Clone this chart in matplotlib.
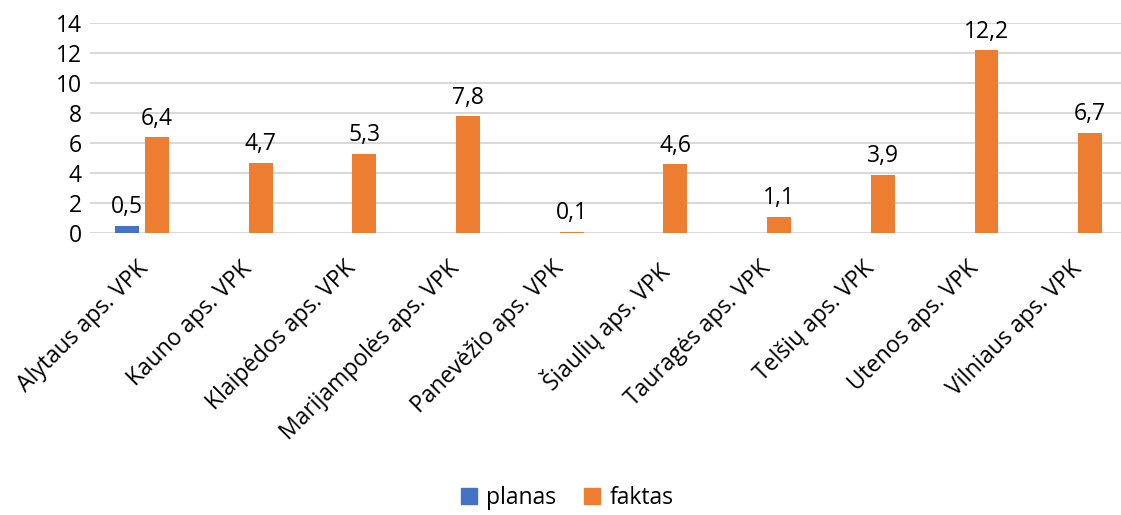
import matplotlib
matplotlib.use("Agg")
import matplotlib.pyplot as plt
import numpy as np
from matplotlib.patches import Patch

categories = ["Alytaus aps. VPK", "Kauno aps. VPK", "Klaipėdos aps. VPK",
              "Marijampolės aps. VPK", "Panevėžio aps. VPK", "Šiaulių aps. VPK",
              "Tauragės aps. VPK", "Telšių aps. VPK", "Utenos aps. VPK",
              "Vilniaus aps. VPK"]
planas = [0.5, 0, 0, 0, 0, 0, 0, 0, 0, 0]
faktas = [6.4, 4.7, 5.3, 7.8, 0.1, 4.6, 1.1, 3.9, 12.2, 6.7]
yticks = [0, 2, 4, 6, 8, 10, 12, 14]

plt.rcParams['font.family'] = ['Open Sans', 'DejaVu Sans']
BLUE = '#4472C4'
ORANGE = '#ED7D31'
FS = 16.5

fig = plt.figure(figsize=(11.21, 5.15), dpi=100)
W, H = 1121, 515
left_px, right_px = 90, 1127
top_px, bottom_px = 23, 233
ax = fig.add_axes([left_px / W, 1 - bottom_px / H, (right_px - left_px) / W, (bottom_px - top_px) / H])

x = np.arange(len(categories))
bw = 0.23
off = 0.145
ax.bar(x - off, planas, bw, color=BLUE, zorder=3)
ax.bar(x + off, faktas, bw, color=ORANGE, zorder=3)

def fmt(v):
    return f"{v:.1f}".replace('.', ',')

for xi, v in zip(x, planas):
    if v > 0:
        ax.annotate(fmt(v), (xi - off, v), xytext=(0, 4.5), textcoords='offset points',
                    ha='center', va='bottom', fontsize=FS, color='#000000')
for xi, v in zip(x, faktas):
    ax.annotate(fmt(v), (xi + off, v), xytext=(0, 4.5), textcoords='offset points',
                ha='center', va='bottom', fontsize=FS, color='#000000')

ax.set_xlim(-0.5, len(categories) - 0.5)
ax.set_ylim(0, 14)
ax.set_yticks(yticks)
ax.set_yticklabels([str(t) for t in yticks], fontsize=FS)
ax.yaxis.grid(True, color='#d9d9d9', linewidth=1.5, zorder=0)
ax.set_axisbelow(True)
for s in ax.spines.values():
    s.set_visible(False)
ax.tick_params(axis='y', length=0, pad=6)
ax.tick_params(axis='x', length=0, pad=17)
ax.set_xticks(x - 0.05)
ax.set_xticklabels(categories, rotation=45, ha='right', va='top',
                   rotation_mode='anchor', fontsize=FS)

handles = [Patch(color=BLUE, label='planas'), Patch(color=ORANGE, label='faktas')]
fig.legend(handles=handles, loc='center', bbox_to_anchor=(0.506, 1 - 498 / H), ncol=2,
           frameon=False, fontsize=FS, handlelength=0.7, handleheight=0.7,
           handletextpad=0.4, columnspacing=1.2)

fig.savefig('out.png', dpi=100)
